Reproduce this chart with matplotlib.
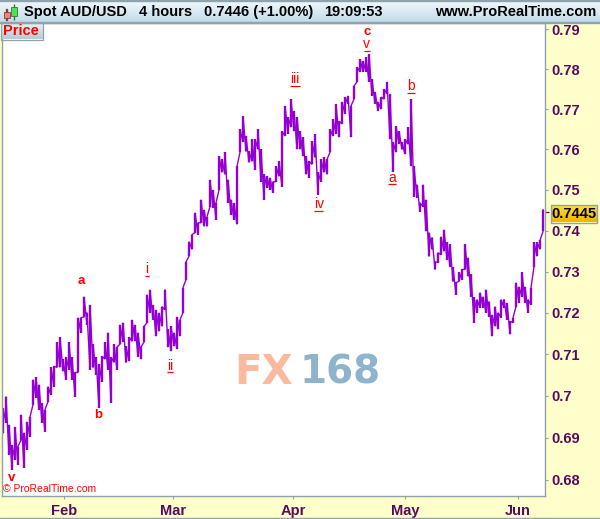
import numpy as np
import matplotlib
matplotlib.use("Agg")
import matplotlib.pyplot as plt
from matplotlib.colors import LinearSegmentedColormap
from matplotlib.patches import Rectangle

# ---- data: one high / low pair per plotted bar ----
high = [.6971,.6998,.6931,.6883,.6926,.6879,.6955,.6912,.6938,.6950,.7039,.7044,.7027,.6983,.6967,.7022,.7068,.7071,.7129,.7141,
        .7088,.7093,.7129,.7093,.7056,.7188,.7188,.7239,.7200,.7219,.7124,.7093,.7076,.7095,.7129,.7152,.7093,.7124,.7117,.7171,
        .7176,.7119,.7141,.7183,.7171,.7152,.7117,.7167,.7244,.7256,.7219,.7207,.7200,.7215,.7256,.7160,.7167,.7152,.7190,.7183,
        .7261,.7324,.7373,.7390,.7444,.7419,.7476,.7451,.7434,.7525,.7500,.7468,.7583,.7575,.7593,.7525,.7476,.7468,.7558,.7650,
        .7683,.7633,.7595,.7625,.7625,.7650,.7600,.7538,.7533,.7530,.7520,.7558,.7570,.7645,.7708,.7680,.7725,.7695,.7680,.7645,
        .7630,.7583,.7570,.7620,.7638,.7543,.7575,.7580,.7575,.7650,.7675,.7713,.7670,.7718,.7730,.7733,.7708,.7758,.7805,.7825,
        .7820,.7830,.7838,.7775,.7743,.7718,.7730,.7750,.7768,.7738,.7618,.7658,.7645,.7618,.7625,.7655,.7725,.7558,.7513,.7468,
        .7513,.7476,.7395,.7383,.7324,.7346,.7385,.7402,.7371,.7366,.7310,.7273,.7298,.7305,.7366,.7334,.7293,.7237,.7232,.7249,
        .7239,.7256,.7227,.7195,.7215,.7200,.7232,.7232,.7224,.7179,.7188,.7273,.7263,.7298,.7263,.7232,.7261,.7371,.7371,.7376,
        .7451]
low = [.6912,.6936,.6860,.6824,.6848,.6836,.6895,.6829,.6871,.6902,.6979,.6995,.6967,.6936,.6914,.6986,.7002,.7022,.7068,.7068,
       .7059,.7039,.7063,.7039,.6998,.7056,.7152,.7190,.7171,.7063,.7068,.7051,.6971,.7034,.7088,.7063,.6983,.7080,.7063,.7124,
       .7129,.7080,.7083,.7131,.7131,.7093,.7088,.7129,.7176,.7200,.7183,.7143,.7155,.7167,.7207,.7117,.7107,.7119,.7112,.7143,
       .7200,.7280,.7337,.7354,.7395,.7390,.7419,.7410,.7410,.7459,.7456,.7427,.7500,.7543,.7538,.7468,.7439,.7427,.7415,.7593,
       .7618,.7595,.7568,.7570,.7550,.7600,.7520,.7476,.7505,.7500,.7493,.7520,.7533,.7508,.7633,.7638,.7655,.7645,.7600,.7600,
       .7583,.7538,.7530,.7563,.7580,.7488,.7520,.7543,.7538,.7593,.7633,.7638,.7630,.7663,.7688,.7713,.7630,.7725,.7768,.7793,
       .7793,.7793,.7768,.7733,.7713,.7695,.7700,.7725,.7738,.7625,.7545,.7593,.7613,.7600,.7588,.7613,.7558,.7483,.7480,.7446,
       .7459,.7398,.7337,.7354,.7305,.7322,.7341,.7349,.7329,.7312,.7276,.7244,.7276,.7280,.7305,.7288,.7239,.7176,.7200,.7212,
       .7212,.7200,.7190,.7143,.7167,.7160,.7188,.7212,.7183,.7148,.7176,.7215,.7224,.7239,.7224,.7200,.7219,.7312,.7337,.7354,
       .7398]
price_ticks = [.79,.78,.77,.76,.75,.74,.73,.72,.71,.70,.69,.68]
price_tick_labels = ["0.79","0.78","0.77","0.76","0.75","0.74","0.73","0.72","0.71","0.7","0.69","0.68"]
month_ticks = [20.3,56.7,96.7,134.0,171.7]
month_labels = ["Feb","Mar","Apr","May","Jun"]
last_price = 0.7445
# wave labels: text, bar position, price, bold
wave_text = ["a","b","v","c","v","iii","i","ii","iv","a","b"]
wave_bar = [26.0,31.7,3.0,121.3,121.3,97.3,48.0,55.7,105.3,129.7,136.0]
wave_price = [.7278,.6955,.6805,.7893,.7863,.7775,.7305,.7071,.7466,.7530,.7758]
wave_bold = [True,True,True,True,False,False,False,False,False,False,False]
# underlines under the thin labels: bar, half width in bars, price
mark_bar = [121.3,97.3,48.0,55.7,105.3,129.7,136.0]
mark_half = [0.9,1.6,0.7,1.1,1.5,1.3,1.3]
mark_price = [.7845,.7758,.7288,.7056,.7449,.7515,.7740]

W, H = 600, 519
GRAY = "#8FA3AD"
PURPLE = "#5A0A5E"
VIOLET = "#9400D3"
plt.rcParams["font.family"] = ["Liberation Sans", "DejaVu Sans"]

fig = plt.figure(figsize=(W/100, H/100), dpi=100, facecolor="#FFFFCC")

def box(x0, y0, x1, y1):
    return [x0/W, 1-y1/H, (x1-x0)/W, (y1-y0)/H]

def gradient(x0, y0, x1, y1, c0, c1, z=5):
    a = fig.add_axes(box(x0, y0, x1, y1), zorder=z)
    a.imshow(np.linspace(0, 1, 32)[:, None], aspect="auto",
             cmap=LinearSegmentedColormap.from_list("g", [c0, c1]))
    a.axis("off")
    return a

def ftext(x, y, s, **kw):
    kw.setdefault("va", "center")
    kw.setdefault("ha", "left")
    kw.setdefault("zorder", 20)
    return fig.text(x/W, 1-y/H, s, **kw)

ax = fig.add_axes(box(1.5, 22.5, 545.5, 496), facecolor="white", zorder=2)
ax.set_yscale("function", functions=(lambda v: np.log(np.asarray(v)+1), lambda v: np.exp(v)-1))

bars = np.arange(len(high))
hi, lo = np.array(high), np.array(low)
ax.vlines(bars, lo, hi, color=VIOLET, lw=1.7)
zz_x = np.repeat(bars, 2)
zz_y = np.column_stack([lo, hi]).ravel()
ax.plot(zz_x, zz_y, color=VIOLET, lw=1.0, solid_joinstyle="miter")

ax.set_xlim(-0.5, 180.83)
ax.set_ylim(0.6762, 0.79171)
ax.yaxis.tick_right()
ax.set_yticks(price_ticks, price_tick_labels)
ax.set_yticks([], minor=True)
ax.set_xticks(month_ticks, month_labels)
ax.tick_params(axis="y", which="major", length=2.5, width=0.8, color=GRAY, pad=2,
               labelsize=10.5, labelcolor=PURPLE)
ax.tick_params(axis="x", which="major", length=2.5, width=0.8, color=GRAY, pad=3,
               labelsize=10.5, labelcolor=PURPLE)
for t in ax.get_xticklabels() + ax.get_yticklabels():
    t.set_fontweight("bold")
ax.set_yticks([last_price], minor=True)
ax.tick_params(axis="y", which="minor", length=3, width=0.9, color=PURPLE, labelright=False)
for s in ax.spines.values():
    s.set_color(GRAY)
    s.set_linewidth(1.0)

for s, b, p, bold in zip(wave_text, wave_bar, wave_price, wave_bold):
    ax.text(b, p, s, color="#FF0000", ha="center", va="center",
            fontsize=9.5 if bold else 10, fontweight="bold" if bold else "normal", zorder=6)
for b, w, p in zip(mark_bar, mark_half, mark_price):
    ax.plot([b-w, b+w], [p, p], color="#FF0000", lw=0.9, zorder=6, solid_capstyle="butt")

# header band
gradient(0, 0, 600, 22, "#F2F9FC", "#C3DCEB", z=3)
fig.add_artist(Rectangle((0, 1-22.5/H), 1, 0.8/H, transform=fig.transFigure, color=GRAY, zorder=4))
fig.add_artist(Rectangle((0, 1-1/H), 1, 1/H, transform=fig.transFigure, color=GRAY, zorder=4))
fig.add_artist(Rectangle((0, 0), 1, 1/H, transform=fig.transFigure, color=GRAY, zorder=4))

# header candle icon
def candle(xc, y0, y1, yb0, yb1, fc, ec):
    fig.add_artist(Rectangle(((xc-0.4)/W, 1-y1/H), 0.8/W, (y1-y0)/H, transform=fig.transFigure, color=ec, zorder=15))
    fig.add_artist(Rectangle(((xc-3)/W, 1-yb1/H), 6/W, (yb1-yb0)/H, transform=fig.transFigure,
                             facecolor=fc, edgecolor=ec, lw=0.6, zorder=16))
candle(6.5, 9, 20, 12, 17.5, "#F08080", "#8A3A3A")
candle(14, 4, 20, 7, 16, "#55DD55", "#2E7D2E")

for x, s in [(24, "Spot AUD/USD"), (139, "4 hours"), (204, "0.7446 (+1.00%)"),
             (324, "19:09:53"), (435, "www.ProRealTime.com")]:
    ftext(x, 12, s, fontsize=10.5, fontweight="bold", color="black")

# "Price" tab
gradient(1, 23, 43, 39.5, "#EEF4F7", "#B8CAD4", z=3.5)
fig.add_artist(Rectangle((1/W, 1-39.5/H), 42/W, 16.5/H, transform=fig.transFigure,
                         fill=False, edgecolor=GRAY, lw=0.9, zorder=6))
ftext(3, 31, "Price", fontsize=10.5, fontweight="bold", color="#FF0000")

# last price box
a = gradient(551, 204.5, 597, 222.5, "#FFE23A", "#EFB400", z=5)
fig.add_artist(Rectangle((551/W, 1-222.5/H), 46/W, 18/H, transform=fig.transFigure,
                         fill=False, edgecolor=GRAY, lw=1.0, zorder=6))
ftext(574, 213.5, f"{last_price:.4f}", fontsize=10.5, fontweight="bold", color="black", ha="center")

# watermark and copyright
ftext(234, 373, "FX", fontsize=29, fontweight="bold", color="#FBB9A0", family="DejaVu Sans")
ftext(300, 373, "168", fontsize=28, fontweight="bold", color="#8FB3CC", family="DejaVu Sans")
ftext(3, 489, "\u00a9 ProRealTime.com", fontsize=7.5, color="#FF0000")

fig.savefig("out.png", dpi=100, facecolor=fig.get_facecolor())
